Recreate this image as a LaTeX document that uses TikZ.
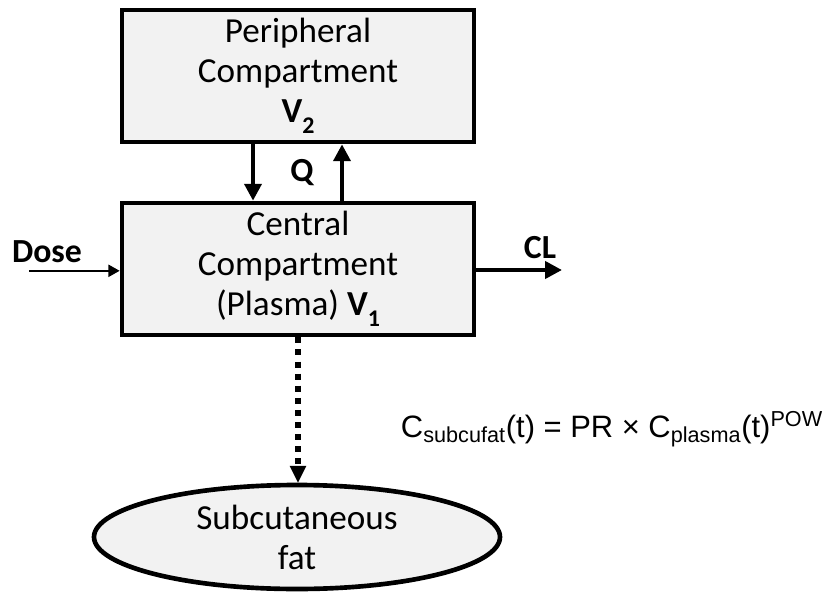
\documentclass[tikz,border=0pt]{standalone}
\usepackage{fontspec}
\setmainfont{Carlito}
\newfontfamily\arialfont{Liberation Sans}
\usetikzlibrary{arrows.meta}
\usetikzlibrary{shapes.geometric}

\definecolor{boxgray}{HTML}{F2F2F2}
\newcommand{\lowsub}[1]{\raisebox{-0.3em}{\fontsize{17}{17}\selectfont #1}}

\begin{document}
\begin{tikzpicture}
  \tikzset{comp/.style = {shape=rectangle,draw,line width=3.3pt,fill=boxgray,align=center,inner sep=0pt,minimum width=8.8cm,minimum height=3.3cm,font=\fontsize{25}{28.5}\selectfont}}
  \tikzset{tissue/.style = {shape=ellipse,draw,line width=3.3pt,fill=boxgray,align=center,inner sep=0pt,font=\fontsize{25}{28.5}\selectfont}}
  \tikzset{flow/.style = {line width=2.9pt,-{Triangle[length=12pt,width=12pt]}}}
  \tikzset{lbl/.style = {font=\fontsize{24}{28}\selectfont\bfseries}}

  \useasboundingbox (0,0) rectangle (20.675,14.8);

	\node[comp] (P) at (7.45,12.9) {Peripheral\\Compartment\\\textbf{V\lowsub{2}}};
	\node[comp] (C) at (7.45,8.075) {Central\\Compartment\\(Plasma) \textbf{V\lowsub{1}}};
	\node[tissue,minimum width=10.15cm,minimum height=2.6cm] (F) at (7.425,1.375) {Subcutaneous\\fat};

	% exchange between the two compartments
	\draw[flow] ([xshift=-1.125cm]P.south) -- ([xshift=-1.125cm]P.south |- C.north);
	\draw[flow] ([xshift=1.1cm]P.south |- C.north) -- ([xshift=1.1cm]P.south);
	\node[lbl] (Q) at (7.55,10.48) {Q};

	% dosing and elimination
	\coordinate (dosein) at (0.725,8.03);
	\coordinate (clout) at (14.05,8.05);
	\node[lbl] (dose) at (1.175,8.5) {Dose};
	\node[lbl] (CL) at (13.5,8.62) {CL};
	\draw[line width=1.6pt,-{Triangle[length=8pt,width=8.5pt]}] (dosein) -- (dosein -| C.west);
	\draw[flow] (C.east |- clout) -- (clout);

	% partition into fat
	\draw[line width=4pt,dash pattern=on 4.3pt off 4.3pt,-{Triangle[length=12pt,width=12pt,line width=0pt]}] (C.south) -- (C.south |- F.north);
	\node[anchor=base west,font={\arialfont\fontsize{22}{26}\selectfont}] (eq) at (9.9,3.875)
	  {C\textsubscript{subcufat}(t) = PR × C\textsubscript{plasma}(t)\textsuperscript{POW}};
\end{tikzpicture}
\end{document}
